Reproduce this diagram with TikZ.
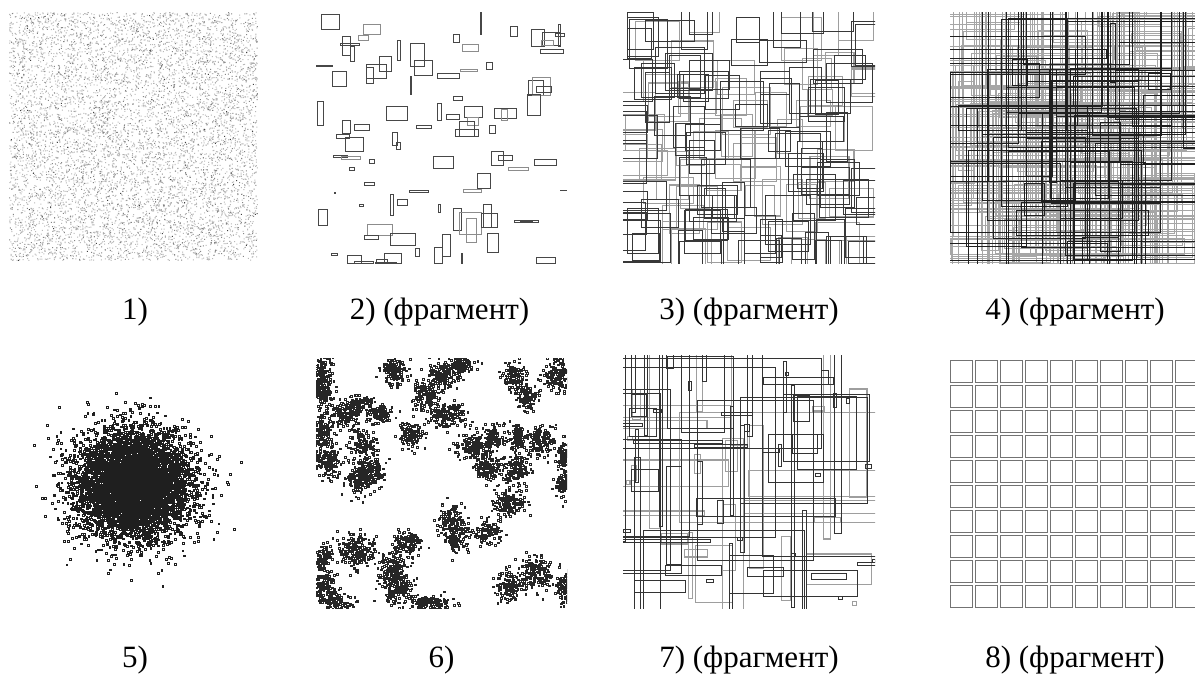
\documentclass[tikz,border=0pt]{standalone}
\usepackage{fontspec}
\setmainfont{Liberation Serif}
\newcount\rcnt
\def\rpow{1}
% uniform dots: n, x0, y0, W, H, size
\newcommand\unifdots[6]{%
  \rcnt=0
  \loop\ifnum\rcnt<#1\relax
    \advance\rcnt by 1
    \pgfmathsetmacro\rxx{#2+#4*rnd}%
    \pgfmathsetmacro\ryy{#3+#5*rnd}%
    \pgfpathrectangle{\pgfpoint{\rxx pt}{-\ryy pt}}{\pgfpoint{#6pt}{#6pt}}%
  \repeat}
% gaussian dots: n, cx, cy, sx, sy, size
\newcommand\gaussdots[6]{%
  \rcnt=0
  \loop\ifnum\rcnt<#1\relax
    \advance\rcnt by 1
    \pgfmathsetmacro\rrr{sqrt(-2*ln(0.0005+0.9995*rnd))}%
    \pgfmathsetmacro\rth{360*rnd}%
    \pgfmathsetmacro\rxx{#2+#4*\rrr*cos(\rth)}%
    \pgfmathsetmacro\ryy{#3+#5*\rrr*sin(\rth)}%
    \pgfpathrectangle{\pgfpoint{\rxx pt}{-\ryy pt}}{\pgfpoint{#6pt}{#6pt}}%
  \repeat}
% random rectangles: n, x0, y0, W, H, wmin, wrange, hmin, hrange
\newcommand\randrects[9]{%
  \rcnt=0
  \loop\ifnum\rcnt<#1\relax
    \advance\rcnt by 1
    \pgfmathsetmacro\rww{#6+#7*rnd^\rpow}%
    \pgfmathsetmacro\rhh{#8+#9*rnd^\rpow}%
    \pgfmathsetmacro\rxx{#2-\rww/2+#4*rnd}%
    \pgfmathsetmacro\ryy{#3-\rhh/2+#5*rnd}%
    \pgfpathrectangle{\pgfpoint{\rxx pt}{-\ryy pt}}{\pgfpoint{\rww pt}{-\rhh pt}}%
  \repeat}
% cluster: cx, cy, sx, sy, n  (sigma scaled by 0.85)
\newcommand\clusterset[5]{%
  \pgfmathsetmacro\csx{0.85*#3}\pgfmathsetmacro\csy{0.85*#4}%
  \gaussdots{#5}{#1}{#2}{\csx}{\csy}{1.7}}
\begin{document}
\begin{tikzpicture}[x=1pt,y=-1pt,
  lbl/.style={anchor=base,inner sep=0pt,font=\fontsize{31}{36}\selectfont},
  ra/.style={draw=black!72,line width=0.8pt},
  rb/.style={draw=black!45,line width=0.9pt},
  cell/.style={draw=black!55,line width=0.9pt}]
\pgfmathsetseed{12345}
\fill[white] (0,0) rectangle (1195,673);
\useasboundingbox (0,0) rectangle (1195,673);

% ---------- panel 1: uniform dots
\begin{pgfscope}
\unifdots{6000}{9}{13}{248}{248}{1}
\pgfsetfillcolor{black!28}\pgfusepath{fill}
\end{pgfscope}
\begin{pgfscope}
\unifdots{2000}{9}{13}{248}{248}{1}
\pgfsetfillcolor{black!48}\pgfusepath{fill}
\end{pgfscope}
\begin{pgfscope}
\unifdots{150}{9}{13}{248}{248}{1}
\pgfsetfillcolor{black!75}\pgfusepath{fill}
\end{pgfscope}

% ---------- panel 2: scattered rectangles (zoom coordinates)
\begin{scope}[shift={(300pt,0pt)},x=0.33333pt,y=-0.33333pt]
\draw[ra] (65,43) rectangle (118,88);
\draw[rb] (190,73) rectangle (240,102);
\draw[rb] (175,107) rectangle (205,122);
\draw[ra] (128,110) rectangle (150,165);
\draw[ra] (120,130) rectangle (177,136);
\draw[ra] (150,140) rectangle (162,185);
\draw[ra] (293,120) rectangle (302,182);
\draw[ra] (330,130) rectangle (373,198);
\draw[ra] (342,180) rectangle (397,226);
\draw[ra] (540,38) rectangle (543,103);
\draw[ra] (460,103) rectangle (478,127);
\draw[rb] (487,133) rectangle (535,153);
\draw[ra] (630,80) rectangle (652,109);
\draw[ra] (693,88) rectangle (733,140);
\draw[ra] (728,98) rectangle (780,135);
\draw[ra] (775,72) rectangle (782,140);
\draw[ra] (765,100) rectangle (792,110);
\draw[rb] (725,122) rectangle (760,135);
\draw[ra] (720,148) rectangle (790,160);
\draw[ra] (48,195) rectangle (98,199);
\draw[ra] (97,213) rectangle (140,260);
\draw[ra] (198,193) rectangle (258,235);
\draw[ra] (238,168) rectangle (275,215);
\draw[ra] (198,202) rectangle (220,250);
\draw[ra] (330,228) rectangle (334,284);
\draw[ra] (412,220) rectangle (478,235);
\draw[rb] (481,207) rectangle (533,214);
\draw[ra] (560,186) rectangle (577,208);
\draw[ra] (685,240) rectangle (730,285);
\draw[rb] (697,232) rectangle (752,285);
\draw[ra] (708,258) rectangle (755,277);
\draw[ra] (682,283) rectangle (721,347);
\draw[ra] (52,303) rectangle (70,377);
\draw[ra] (260,318) rectangle (322,362);
\draw[ra] (460,289) rectangle (488,300);
\draw[ra] (412,310) rectangle (425,362);
\draw[ra] (440,343) rectangle (478,358);
\draw[ra] (492,318) rectangle (548,352);
\draw[rb] (503,352) rectangle (535,376);
\draw[ra] (478,365) rectangle (523,408);
\draw[ra] (466,388) rectangle (535,410);
\draw[ra] (583,325) rectangle (648,355);
\draw[rb] (603,328) rectangle (622,360);
\draw[ra] (568,376) rectangle (587,400);
\draw[ra] (128,361) rectangle (152,400);
\draw[ra] (163,372) rectangle (207,391);
\draw[ra] (110,403) rectangle (148,415);
\draw[ra] (137,412) rectangle (189,455);
\draw[ra] (348,376) rectangle (395,385);
\draw[ra] (276,396) rectangle (292,436);
\draw[ra] (289,427) rectangle (301,448);
\draw[ra] (100,465) rectangle (142,473);
\draw[rb] (125,470) rectangle (181,478);
\draw[ra] (208,478) rectangle (222,491);
\draw[ra] (148,502) rectangle (163,511);
\draw[ra] (400,468) rectangle (460,505);
\draw[ra] (573,455) rectangle (610,497);
\draw[ra] (595,466) rectangle (638,480);
\draw[rb] (626,502) rectangle (685,512);
\draw[ra] (703,479) rectangle (769,497);
\draw[ra] (531,521) rectangle (571,564);
\draw[ra] (193,547) rectangle (223,555);
\draw[ra] (327,570) rectangle (385,577);
\draw[rb] (490,569) rectangle (545,577);
\draw[ra] (780,570) rectangle (800,572);
\draw[ra] (103,578) rectangle (106,580);
\draw[ra] (178,613) rectangle (191,620);
\draw[ra] (272,583) rectangle (280,647);
\draw[ra] (293,598) rectangle (322,616);
\draw[ra] (415,613) rectangle (421,637);
\draw[ra] (55,628) rectangle (82,675);
\draw[ra] (460,625) rectangle (485,690);
\draw[rb] (478,637) rectangle (543,702);
\draw[rb] (498,655) rectangle (528,728);
\draw[ra] (550,613) rectangle (575,683);
\draw[ra] (545,640) rectangle (592,683);
\draw[ra] (642,661) rectangle (715,667);
\draw[ra] (660,661) rectangle (697,665);
\draw[rb] (202,674) rectangle (277,705);
\draw[ra] (193,705) rectangle (235,717);
\draw[ra] (272,700) rectangle (347,737);
\draw[ra] (562,700) rectangle (595,757);
\draw[ra] (428,703) rectangle (452,768);
\draw[ra] (402,742) rectangle (428,790);
\draw[ra] (345,746) rectangle (358,768);
\draw[ra] (93,760) rectangle (113,767);
\draw[ra] (142,767) rectangle (185,790);
\draw[ra] (163,785) rectangle (220,790);
\draw[ra] (230,778) rectangle (262,790);
\draw[ra] (225,787) rectangle (290,790);
\draw[ra] (253,760) rectangle (305,790);
\draw[ra] (485,760) rectangle (488,790);
\draw[ra] (708,772) rectangle (766,790);
\end{scope}

% ---------- panel 3: overlapping squares
\begin{scope}
\clip (623,12) rectangle (875,263);
\begin{pgfscope}
\def\rpow{1}
\randrects{65}{623}{12}{252}{251}{24}{26}{24}{26}
\pgfsetlinewidth{1.1pt}\pgfsetstrokecolor{black!38}\pgfusepath{stroke}
\end{pgfscope}
\begin{pgfscope}
\randrects{105}{623}{12}{252}{251}{20}{30}{20}{30}
\pgfsetlinewidth{0.7pt}\pgfsetstrokecolor{black!78}\pgfusepath{stroke}
\end{pgfscope}
\end{scope}

% ---------- panel 4: dense large rectangles
\begin{scope}
\clip (950,12) rectangle (1196,263);
\begin{pgfscope}
\randrects{175}{950}{12}{246}{251}{5}{240}{5}{240}
\pgfsetlinewidth{0.9pt}\pgfsetstrokecolor{black!35}\pgfusepath{stroke}
\end{pgfscope}
\begin{pgfscope}
\randrects{65}{950}{12}{246}{251}{5}{240}{5}{240}
\pgfsetlinewidth{0.6pt}\pgfsetstrokecolor{black!88}\pgfusepath{stroke}
\end{pgfscope}
\end{scope}

% ---------- panel 5: gaussian cloud
\begin{pgfscope}
\gaussdots{6000}{133}{486}{29}{27}{1.8}
\pgfsetlinewidth{0.6pt}\pgfsetstrokecolor{black!88}\pgfusepath{stroke}
\end{pgfscope}

% ---------- panel 6: clusters
\begin{scope}
\clip (316,358) rectangle (567,608);
\begin{pgfscope}
\clusterset{323}{375}{6}{11}{140}
\clusterset{322}{395}{6}{9}{100}
\clusterset{392}{372}{8}{8}{130}
\clusterset{443}{376}{10}{8}{150}
\clusterset{460}{365}{8}{5}{90}
\clusterset{425}{395}{8}{10}{130}
\clusterset{445}{415}{11}{8}{160}
\clusterset{513}{378}{8}{8}{100}
\clusterset{527}{397}{6}{8}{100}
\clusterset{557}{376}{8}{11}{150}
\clusterset{345}{415}{9}{8}{130}
\clusterset{358}{405}{8}{6}{90}
\clusterset{378}{415}{8}{6}{100}
\clusterset{322}{433}{7}{10}{130}
\clusterset{362}{444}{8}{8}{130}
\clusterset{410}{435}{8}{8}{110}
\clusterset{325}{462}{9}{9}{160}
\clusterset{358}{480}{10}{9}{150}
\clusterset{370}{470}{8}{8}{100}
\clusterset{473}{448}{10}{9}{160}
\clusterset{493}{438}{8}{8}{100}
\clusterset{518}{437}{6}{8}{100}
\clusterset{540}{442}{8}{9}{130}
\clusterset{563}{457}{5}{9}{90}
\clusterset{488}{470}{8}{8}{110}
\clusterset{513}{470}{9}{10}{150}
\clusterset{563}{485}{5}{9}{90}
\clusterset{508}{503}{10}{8}{150}
\clusterset{451}{520}{8}{9}{120}
\clusterset{455}{540}{8}{8}{120}
\clusterset{488}{533}{8}{7}{100}
\clusterset{407}{543}{8}{7}{110}
\clusterset{355}{551}{11}{10}{190}
\clusterset{323}{560}{6}{8}{90}
\clusterset{393}{568}{9}{10}{150}
\clusterset{396}{590}{9}{9}{150}
\clusterset{323}{588}{8}{9}{120}
\clusterset{335}{603}{9}{6}{100}
\clusterset{430}{604}{13}{6}{140}
\clusterset{508}{587}{9}{8}{130}
\clusterset{535}{575}{10}{10}{150}
\clusterset{565}{590}{6}{10}{100}
\pgfsetlinewidth{0.55pt}\pgfsetstrokecolor{black!85}\pgfusepath{stroke}
\end{pgfscope}
\end{scope}

% ---------- panel 7: mixed rectangles
\begin{scope}
\clip (623,355) rectangle (875,608);
\def\rpow{4}
\begin{pgfscope}
\randrects{30}{623}{355}{252}{253}{4}{230}{4}{230}
\pgfsetlinewidth{1.1pt}\pgfsetstrokecolor{black!38}\pgfusepath{stroke}
\end{pgfscope}
\begin{pgfscope}
\randrects{70}{623}{355}{252}{253}{3}{240}{3}{240}
\pgfsetlinewidth{0.7pt}\pgfsetstrokecolor{black!80}\pgfusepath{stroke}
\end{pgfscope}
\end{scope}

% ---------- panel 8: regular grid
\foreach \i in {0,...,9}{
  \foreach \j in {0,...,9}{
    \draw[cell] ({950+25*\i},{360+25*\j}) rectangle +(22.7,22.7);
  }
}

% ---------- labels
\node[lbl] (l1) at (135,319.5) {1)};
\node[lbl] (l2) at (439.5,319.5) {2) (фрагмент)};
\node[lbl] (l3) at (749,319.5) {3) (фрагмент)};
\node[lbl] (l4) at (1075,319.5) {4) (фрагмент)};
\node[lbl] (l5) at (135,667) {5)};
\node[lbl] (l6) at (441.5,667) {6)};
\node[lbl] (l7) at (749,667) {7) (фрагмент)};
\node[lbl] (l8) at (1075,667) {8) (фрагмент)};
\end{tikzpicture}
\end{document}
